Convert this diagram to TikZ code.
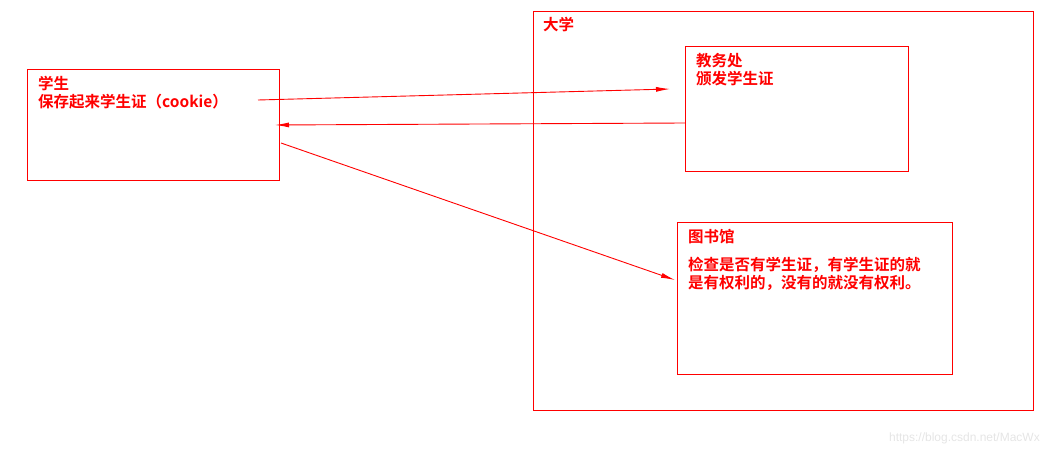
\documentclass[tikz,border=0pt]{standalone}
\usepackage{fontspec}
\setmainfont{Noto Sans CJK SC}[BoldFont={* Bold}]
\newfontfamily\wmfont{Liberation Sans}
\usepackage{tikz}
\usetikzlibrary{arrows.meta,positioning}
\usepackage{xcolor}

\begin{document}
\begin{tikzpicture}[
  x=1pt, y=-1pt,
  font=\fontsize{15.5}{18}\selectfont\bfseries,
  every node/.style={align=left},
  box/.style={draw=red, line width=1pt, anchor=north west, inner sep=0pt},
  lbl/.style={text=red, anchor=north west, inner sep=0pt},
  arr/.style={-{Latex[length=14pt,width=5pt]}, line width=0.9pt, draw=red}
]
\useasboundingbox (0,0) rectangle (1052,457);

\node[box, minimum width=252pt, minimum height=111pt] (stu) at (27,69) {};
\node[box, minimum width=500pt, minimum height=399pt] (uni) at (533,11) {};
\node[box, minimum width=223pt, minimum height=125pt] (jwc) at (685,46) {};
\node[box, minimum width=275pt, minimum height=152pt] (lib) at (677,222) {};

\node[lbl] (stutxt) at (38,76) {学生\\保存起来学生证（cookie）};
\node[lbl] (unitxt) at (543,17) {大学};
\node[lbl] (jwctxt) at (696,53) {教务处\\颁发学生证};
\node[lbl] (libtxt) at (688,229) {图书馆};
\node[lbl, below=13pt of libtxt.south west, anchor=north west] (libdesc)
  {检查是否有学生证，有学生证的就\\是有权利的，没有的就没有权利。};
\node[anchor=east, inner sep=0pt, text=gray!20, font=\wmfont\fontsize{12}{14}\selectfont]
  (wm) at (1040,438) {https://blog.csdn.net/MacWx};

\coordinate (s1) at (258,100);
\coordinate (j1) at (670,89);
\coordinate (j2) at (685,123);
\coordinate (s2) at (275,125);
\coordinate (s3) at (281,143);
\coordinate (l1) at (675,280);

\draw[arr] (s1) -- (j1);
\draw[arr] (j2) -- (s2);
\draw[arr] (s3) -- (l1);
\end{tikzpicture}
\end{document}
